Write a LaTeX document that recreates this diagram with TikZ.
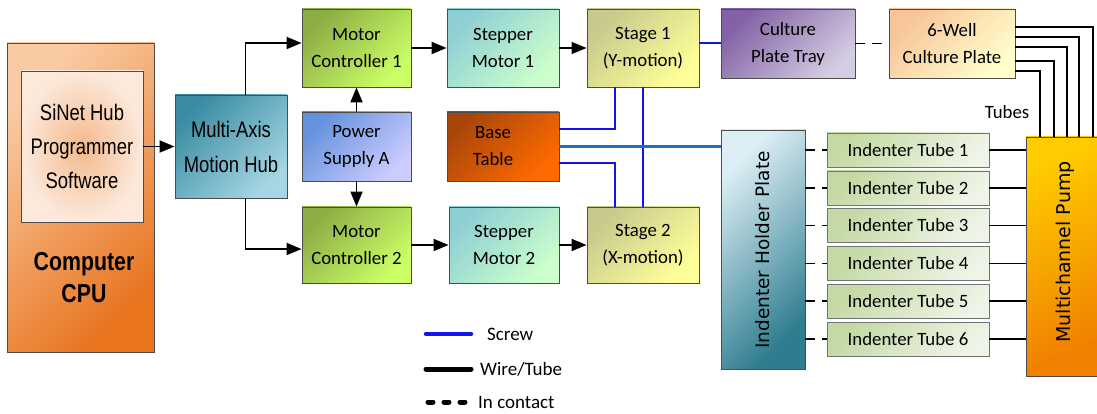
\documentclass[tikz,border=0pt]{standalone}
\usepackage{fontspec}
\setmainfont{Carlito}
\newfontfamily\narrowfont[FakeStretch=0.82]{Liberation Sans}
\newfontfamily\dvfont{DejaVu Sans}
\usetikzlibrary{arrows.meta,calc}
\definecolor{cpuA}{HTML}{F9CBA4}\definecolor{cpuB}{HTML}{E8741E}
\definecolor{sinO}{HTML}{FCE9DC}\definecolor{sinI}{HTML}{F4B98C}
\definecolor{hubA}{HTML}{3A8CA2}\definecolor{hubB}{HTML}{A6D6E4}
\definecolor{mcA}{HTML}{8DAE45}\definecolor{mcB}{HTML}{CCFF66}
\definecolor{smA}{HTML}{8ECFD4}\definecolor{smB}{HTML}{CCFFCC}
\definecolor{stA}{HTML}{C8C98C}\definecolor{stB}{HTML}{FFFF99}
\definecolor{psA}{HTML}{6592DC}\definecolor{psB}{HTML}{CCCCFF}
\definecolor{baseA}{HTML}{A8460A}\definecolor{baseB}{HTML}{FF6A00}
\definecolor{trayA}{HTML}{8262A4}\definecolor{trayB}{HTML}{D4CCE2}
\definecolor{wellA}{HTML}{F8C49A}\definecolor{wellB}{HTML}{FFFFCC}
\definecolor{plateA}{HTML}{DCEFF5}\definecolor{plateB}{HTML}{2E7C8F}
\definecolor{tubeA}{HTML}{C4D9A4}\definecolor{tubeB}{HTML}{EEF4E6}
\definecolor{pumpA}{HTML}{FFCC00}\definecolor{pumpB}{HTML}{F08000}
\definecolor{screwblue}{HTML}{1414F0}
\definecolor{steelline}{HTML}{1F70C0}
\begin{document}
\begin{tikzpicture}[x=1pt,y=-1pt,
  box/.style={draw=black!70, line width=0.9pt, inner sep=0pt, align=center,
    font=\fontsize{18.8}{27}\selectfont, text=black},
  diag/.style 2 args={top color=#1, bottom color=#2, shading angle=45},
  arr/.style={line width=1.8pt, -{Triangle[length=15pt,width=12pt]}},
  screw/.style={draw=screwblue, line width=2pt},
  steel/.style={draw=steelline, line width=2.2pt},
  wire/.style={line width=1.6pt},
  contact/.style={line width=1.6pt, dash pattern=on 10pt off 7pt},
  legtext/.style={anchor=west, font=\fontsize{19}{22}\selectfont, inner sep=0pt}
]
\useasboundingbox (0,0) rectangle (1097,414);

% left part
\node[box, diag={cpuA}{cpuB}, minimum width=147pt, minimum height=309pt] (cpu) at (80.5,197.5) {};
\node[box, inner color=sinI, outer color=sinO, minimum width=122pt, minimum height=151pt,
  font=\narrowfont\fontsize{22.5}{34}\selectfont] (sinet) at (82,146.5) {SiNet Hub\\Programmer\\Software};
\node[font=\narrowfont\bfseries\fontsize{26}{32}\selectfont, align=center, inner sep=0pt] (cpulabel) at (84,278) {Computer\\CPU};
\node[box, diag={hubA}{hubB}, minimum width=112pt, minimum height=103pt,
  font=\narrowfont\fontsize{22.5}{35}\selectfont] (hub) at (231,146.5) {Multi-Axis\\Motion Hub};

% middle
\node[box, diag={mcA}{mcB}, minimum width=109pt, minimum height=78pt] (mc1) at (356.5,48) {Motor\\Controller 1};
\node[box, diag={smA}{smB}, minimum width=112pt, minimum height=78pt] (sm1) at (503,48) {Stepper\\Motor 1};
\node[box, diag={stA}{stB}, minimum width=112pt, minimum height=78pt] (st1) at (643,48) {Stage 1\\(Y-motion)};
\node[box, diag={psA}{psB}, minimum width=109pt, minimum height=69pt] (ps) at (356.5,146.5) {Power\\Supply A};
\node[box, diag={baseA}{baseB}, minimum width=112pt, minimum height=69pt] (base) at (503,146.5) {Base\hspace*{20pt}\\Table\hspace*{20pt}};
\node[box, diag={mcA}{mcB}, minimum width=109pt, minimum height=76pt] (mc2) at (356.5,245) {Motor\\Controller 2};
\node[box, diag={smA}{smB}, minimum width=110pt, minimum height=76pt] (sm2) at (504,245) {Stepper\\Motor 2};
\node[box, diag={stA}{stB}, minimum width=112pt, minimum height=76pt] (st2) at (643,245) {Stage 2\\(X-motion)};

% right
\node[box, diag={trayA}{trayB}, minimum width=134pt, minimum height=69pt] (tray) at (788,43.5) {Culture\\Plate Tray};
\node[box, diag={wellA}{wellB}, minimum width=126pt, minimum height=69pt] (well) at (952,43.5) {6-Well\\Culture Plate};
\node[box, diag={plateA}{plateB}, minimum width=84pt, minimum height=239pt] (plate) at (763,249.5) {};
\node[rotate=90, font=\dvfont\fontsize{18.5}{22}\selectfont, inner sep=0pt] (platelabel) at (763,250) {Indenter Holder Plate};
\node[box, diag={pumpA}{pumpB}, shading angle=25, minimum width=71pt, minimum height=239pt] (pump) at (1061.5,256.5) {};
\node[rotate=90, font=\dvfont\fontsize{19}{22}\selectfont, inner sep=0pt] (pumplabel) at (1065,252) {Multichannel Pump};
\node[font=\fontsize{18.8}{22}\selectfont, inner sep=0pt] (tubeslabel) at (1007,112) {Tubes};

\foreach \i/\y in {1/150,2/188,3/225.5,4/263.5,5/301,6/339} {
  \node[box, diag={tubeA}{tubeB}, draw=black!55, minimum width=162pt, minimum height=34pt] (tube\i) at (908,\y) {Indenter Tube \i};
  \draw[contact] (plate.east |- tube\i.west) -- (tube\i.west);
  \draw[wire] (tube\i.east) -- (tube\i.east -| pump.west);
}

% arrows
\draw[arr] (sinet.east) -- (hub.west);
\draw[arr] ([xshift=-42pt]hub.north east) |- ([yshift=5pt]mc1.west);
\draw[arr] ([xshift=-42pt]hub.south east) |- ([yshift=-4pt]mc2.west);
\draw[arr] (mc1.east) -- (sm1.west);
\draw[arr] (sm1.east) -- (st1.west);
\draw[arr] (mc2.east) -- (sm2.west);
\draw[arr] (sm2.east) -- (st2.west);
\draw[arr] (ps.north) -- (mc1.south);
\draw[arr] (ps.south) -- (mc2.north);

% screws
\draw[screw] ([yshift=17.5pt]base.east) -| ([xshift=-28pt]st1.south);
\draw[screw] ([yshift=-16.5pt]base.east) -| ([xshift=-28pt]st2.north);
\draw[screw] (st1.south) -- (st2.north);
\draw[screw] ([yshift=5pt]st1.east) -- ([yshift=5pt]st1.east -| tray.west);
\draw[steel] (base.east) -- (base.east -| plate.west);

% contact
\draw[contact] (tray.east) -- (well.west);

% tubes from well to pump
\foreach \dy/\dx in {16.5/31.5, 6.5/17.5, -3.5/5.5, -17.5/-7.5, -27.5/-21.5} {
  \draw[wire] ([yshift=\dy pt]well.east) -| ([xshift=\dx pt]pump.north);
}

% legend
\coordinate (l1a) at (426,334); \coordinate (l1b) at (471,334);
\coordinate (l2a) at (426,369); \coordinate (l2b) at (471,369);
\coordinate (l3a) at (428,402); \coordinate (l3b) at (471,402);
\draw[draw=screwblue, line width=4.5pt, line cap=round] (l1a) -- (l1b);
\draw[line width=5pt, line cap=round] (l2a) -- (l2b);
\draw[line width=5pt, line cap=round, dash pattern=on 5pt off 11pt] (l3a) -- (l3b);
\node[legtext] (leg1) at (487,334) {Screw};
\node[legtext] (leg2) at (480,369) {Wire/Tube};
\node[legtext] (leg3) at (478,402) {In contact};
\end{tikzpicture}
\end{document}
